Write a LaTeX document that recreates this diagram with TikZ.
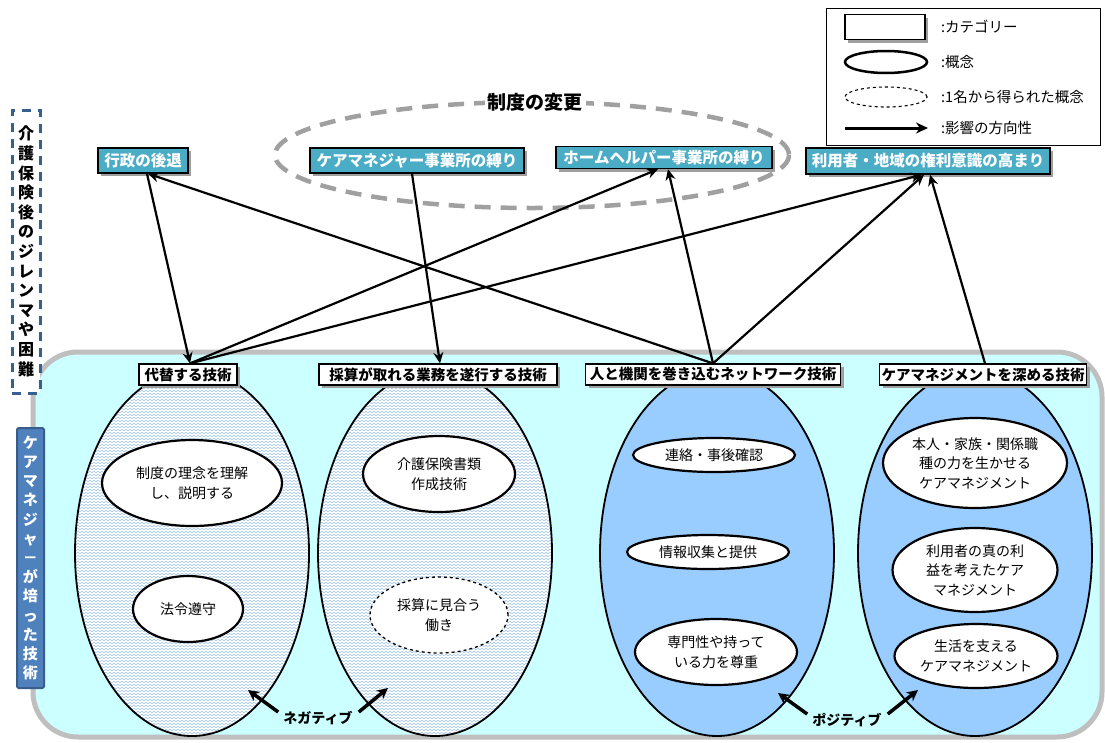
\documentclass[tikz,border=0pt]{standalone}
\usepackage{fontspec}
\setmainfont{Noto Sans CJK JP}
\usetikzlibrary{shapes.geometric,shadows,arrows.meta,patterns.meta}
\definecolor{topteal}{HTML}{4BACC6}
\definecolor{bgcyan}{HTML}{CCFFFF}
\definecolor{bgborder}{HTML}{BFBFBF}
\definecolor{posblue}{HTML}{99CCFF}
\definecolor{leftblue}{HTML}{4F81BD}
\definecolor{leftborder}{HTML}{385D8A}
\definecolor{dashnavy}{HTML}{376092}
\definecolor{grayring}{HTML}{A0A0A0}
\definecolor{zzcol}{HTML}{A9C9EC}
\newcommand\myfs[2]{\fontsize{#1}{#2}\selectfont}
\tikzdeclarepattern{
  name=zz,
  type=uncolored,
  bounding box={(-0.5pt,-1.5pt) and (4.5pt,1.5pt)},
  tile size={(4pt,3pt)},
  code={\draw[line width=0.6pt] (0pt,-0.8pt) -- (2pt,0.8pt) -- (4pt,-0.8pt);}
}
\tikzset{
  myshadow/.style={drop shadow={shadow xshift=3pt,shadow yshift=-3pt,fill=gray!75,opacity=1}},
  topcat/.style={draw=black,line width=1.4pt,fill=topteal,text=white,
    font=\myfs{15.5}{18}\bfseries,inner sep=2pt,minimum height=25pt,myshadow},
  botcat/.style={draw=black,line width=1.2pt,fill=white,text=black,
    font=\myfs{14.5}{17}\bfseries,inner sep=2pt,minimum height=21pt,myshadow},
  bigell/.style={draw=black,ellipse,line width=1.8pt,minimum width=234pt,minimum height=366pt,inner sep=0pt},
  concept/.style={draw=black,ellipse,fill=white,line width=2.2pt,inner sep=0pt,
    align=center,font=\myfs{14}{19.5}},
  infl/.style={line width=2.2pt,-{Stealth[length=11pt,width=10pt]}},
  bigarrow/.style={line width=3.5pt,-{Stealth[length=11pt,width=11pt]}},
  legtext/.style={anchor=west,font=\myfs{14.5}{16},inner sep=0pt},
}
\begin{document}
\begin{tikzpicture}[x=1pt,y=-1pt]
\useasboundingbox (0,0) rectangle (1105,742);
\fill[white] (0,0) rectangle (1105,742);

% big background
\draw[line width=5pt,draw=bgborder,fill=bgcyan,rounded corners=45pt] (33,352) rectangle (1102,737);

% large ellipses
\node[bigell,preaction={fill=white},pattern=zz,pattern color=zzcol] (e1) at (192,553) {};
\node[bigell,preaction={fill=white},pattern=zz,pattern color=zzcol] (e2) at (435,553) {};
\node[bigell,fill=posblue] (e3) at (717,553) {};
\node[bigell,fill=posblue] (e4) at (975,553) {};

% concepts
\node[concept,minimum width=180pt,minimum height=86pt] (c1) at (192,483) {制度の理念を理解\\し、説明する};
\node[concept,minimum width=110pt,minimum height=66pt] (c2) at (188,609) {法令遵守};
\node[concept,minimum width=152pt,minimum height=76pt] (c3) at (439,474) {介護保険書類\\作成技術};
\node[concept,dashed,line width=1.3pt,minimum width=138pt,minimum height=76pt] (c4) at (439,615) {採算に見合う\\働き};
\node[concept,minimum width=162pt,minimum height=34pt] (c5) at (714,455) {連絡・事後確認};
\node[concept,minimum width=162pt,minimum height=34pt] (c6) at (708,552) {情報収集と提供};
\node[concept,minimum width=162pt,minimum height=66pt] (c7) at (716,652) {専門性や持って\\いる力を尊重};
\node[concept,minimum width=184pt,minimum height=90pt] (c8) at (975,463) {本人・家族・関係職\\種の力を生かせる\\ケアマネジメント};
\node[concept,minimum width=165pt,minimum height=84pt] (c9) at (975,570) {利用者の真の利\\益を考えたケア\\マネジメント};
\node[concept,minimum width=163pt,minimum height=64pt] (c10) at (976,656) {生活を支える\\ケアマネジメント};

% negative / positive
\node[font=\myfs{14}{16}\bfseries,inner sep=1pt] (neg) at (318,718) {ネガティブ};
\coordinate (n1) at (248,690);
\coordinate (n2) at (388,688);
\draw[bigarrow] ([xshift=-4pt,yshift=-2pt]neg.north west) -- (n1);
\draw[bigarrow] ([xshift=5pt,yshift=-2pt]neg.north east) -- (n2);
\node[font=\myfs{14}{16}\bfseries,inner sep=1pt] (pos) at (847,720) {ポジティブ};
\coordinate (p1) at (778,693);
\coordinate (p2) at (918,690);
\draw[bigarrow] ([xshift=-4pt,yshift=-2pt]pos.north west) -- (p1);
\draw[bigarrow] ([xshift=5pt,yshift=-2pt]pos.north east) -- (p2);

% bottom categories
\node[botcat,minimum width=98pt] (daitai) at (188,374.5) {代替する技術};
\node[botcat,minimum width=238pt] (saisan) at (438,374.5) {採算が取れる業務を遂行する技術};
\node[botcat,minimum width=255pt] (hito) at (713,374.5) {人と機関を巻き込むネットワーク技術};
\node[botcat,minimum width=207pt] (fukame) at (983,374.5) {ケアマネジメントを深める技術};

% left labels
\node[draw=dashnavy,line width=3pt,dash pattern=on 9pt off 7pt,fill=white,
  minimum width=28pt,minimum height=283pt,inner sep=0pt,align=center,
  font=\myfs{16}{19.6}\bfseries] (dilemma) at (26,251.5)
  {介\\護\\保\\険\\後\\の\\ジ\\レ\\ン\\マ\\や\\困\\難};
\node[draw=leftborder,line width=2pt,fill=leftblue,text=white,rounded corners=1.5pt,
  minimum width=27pt,minimum height=260pt,inner sep=0pt,align=center,
  font=\myfs{15}{19.2}\bfseries] (skill) at (30.5,558)
  {ケ\\ア\\マ\\ネ\\ジ\\ャ\\－\\が\\培\\っ\\た\\技\\術};

% institutional change ring
\draw[grayring,line width=4.5pt,dash pattern=on 16pt off 10pt] (532,155) ellipse [x radius=257, y radius=53];
\node[fill=white,inner sep=3pt,font=\myfs{19}{21}\bfseries] (seido) at (535,102) {制度の変更};

% top categories
\node[topcat,minimum width=90pt] (gyosei) at (143,160.5) {行政の後退};
\node[topcat,minimum width=214pt] (cmj) at (417,160.5) {ケアマネジャー事業所の縛り};
\node[topcat,minimum width=216pt,minimum height=22pt] (hhj) at (664,157.5) {ホームヘルパー事業所の縛り};
\node[topcat,minimum width=244pt,minimum height=26pt] (riyo) at (928,161) {利用者・地域の権利意識の高まり};

% influences
\draw[infl] ([xshift=4pt]gyosei.south) -- ([xshift=2pt]daitai.north);
\draw[infl] (hito.north) -- ([xshift=5pt]gyosei.south);
\draw[infl] ([xshift=2pt]daitai.north) -- ([xshift=-6pt]hhj.south);
\draw[infl] ([xshift=2pt]daitai.north) -- ([xshift=-6pt]riyo.south);
\draw[infl] ([xshift=-5pt]cmj.south) -- ([xshift=2pt]saisan.north);
\draw[infl] (hito.north) -- ([xshift=4pt]hhj.south);
\draw[infl] (hito.north) -- ([xshift=-4pt]riyo.south);
\draw[infl] ([xshift=2pt]fukame.north) -- ([xshift=2pt]riyo.south);

% legend
\node[draw=black,line width=1.3pt,minimum width=274pt,minimum height=137pt,anchor=north west,inner sep=0pt] (legend) at (826,8) {};
\node[draw=black,line width=1.8pt,fill=white,minimum width=80pt,minimum height=25pt,inner sep=0pt,myshadow] (lg1) at (885,27) {};
\node[draw=black,ellipse,line width=2.5pt,minimum width=82pt,minimum height=22pt,inner sep=0pt] (lg2) at (886,62) {};
\node[draw=black,ellipse,dashed,line width=1.1pt,minimum width=82pt,minimum height=20pt,inner sep=0pt] (lg3) at (886,97) {};
\coordinate (lg4a) at (845,128);
\coordinate (lg4b) at (928,128);
\draw[line width=3pt,-{Stealth[length=12pt,width=11pt]}] (lg4a) -- (lg4b);
\node[legtext] (lt1) at (941,27) {:カテゴリー};
\node[legtext] (lt2) at (941,62) {:概念};
\node[legtext] (lt3) at (941,97) {:1名から得られた概念};
\node[legtext] (lt4) at (941,128) {:影響の方向性};
\end{tikzpicture}
\end{document}
